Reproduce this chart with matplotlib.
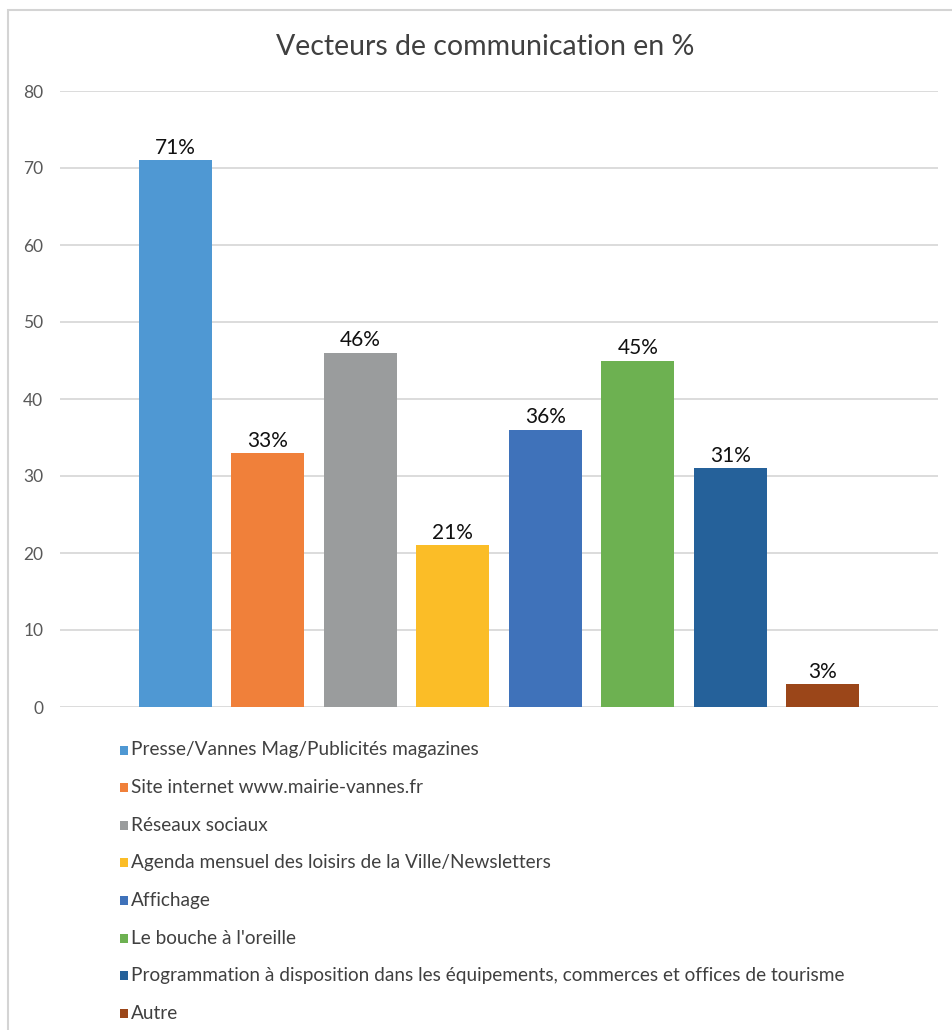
import matplotlib.pyplot as plt
from matplotlib.patches import Rectangle

plt.rcParams['font.family'] = ['Lato', 'DejaVu Sans']

CATEGORIES = [
    'Presse/Vannes Mag/Publicités magazines',
    'Site internet www.mairie-vannes.fr',
    'Réseaux sociaux',
    'Agenda mensuel des loisirs de la Ville/Newsletters',
    'Affichage',
    "Le bouche à l'oreille",
    'Programmation à disposition dans les équipements, commerces et offices de tourisme',
    'Autre',
]
VALUES = [71, 33, 46, 21, 36, 45, 31, 3]
COLORS = ['#4f98d3', '#f0803a', '#9a9c9d', '#fbbd27',
          '#3f72ba', '#6db151', '#25619a', '#9b4619']
YTICKS = [0, 10, 20, 30, 40, 50, 60, 70, 80]

W, H = 952, 1030
fig = plt.figure(figsize=(W / 100, H / 100), dpi=100)

# light gray frame around the chart area
fig.patches.append(Rectangle((8 / W, -0.05), 1.1, 1 - 10 / H + 0.05,
                             transform=fig.transFigure, fill=False,
                             edgecolor='#d4d4d4', linewidth=1.5))

ax = fig.add_axes([60 / W, 1 - 707 / H, (938 - 60) / W, (707 - 91) / H])
x = list(range(len(VALUES)))
bars = ax.bar(x, VALUES, width=0.79, color=COLORS, zorder=3)
for b, v in zip(bars, VALUES):
    ax.text(b.get_x() + b.get_width() / 2, v + 0.3, f'{v}%',
            ha='center', va='bottom', fontsize=15, color='#111111')

ax.set_xlim(-1.245, 8.245)
ax.set_ylim(0, 80)
ax.set_yticks(YTICKS)
ax.tick_params(axis='y', length=0, pad=12, labelsize=12.5, labelcolor='#595959')
ax.set_xticks([])
ax.grid(axis='y', color='#d9d9d9', linewidth=1.3, zorder=0)
for s in ax.spines.values():
    s.set_visible(False)

fig.text(485 / W, 1 - 47 / H, 'Vecteurs de communication en %',
         ha='center', va='center', fontsize=20.5, color='#404040')

# legend, one entry per row below the plot
y0, step = 750, 37.6
for i, (label, color) in enumerate(zip(CATEGORIES, COLORS)):
    yc = y0 + i * step
    fig.patches.append(Rectangle((120 / W, 1 - (yc + 4.5) / H), 8 / W, 9 / H,
                                 transform=fig.transFigure,
                                 facecolor=color, edgecolor='none'))
    fig.text(131 / W, 1 - yc / H, label, ha='left', va='center',
             fontsize=13.7, color='#404040')

fig.savefig('out.png', dpi=100)
